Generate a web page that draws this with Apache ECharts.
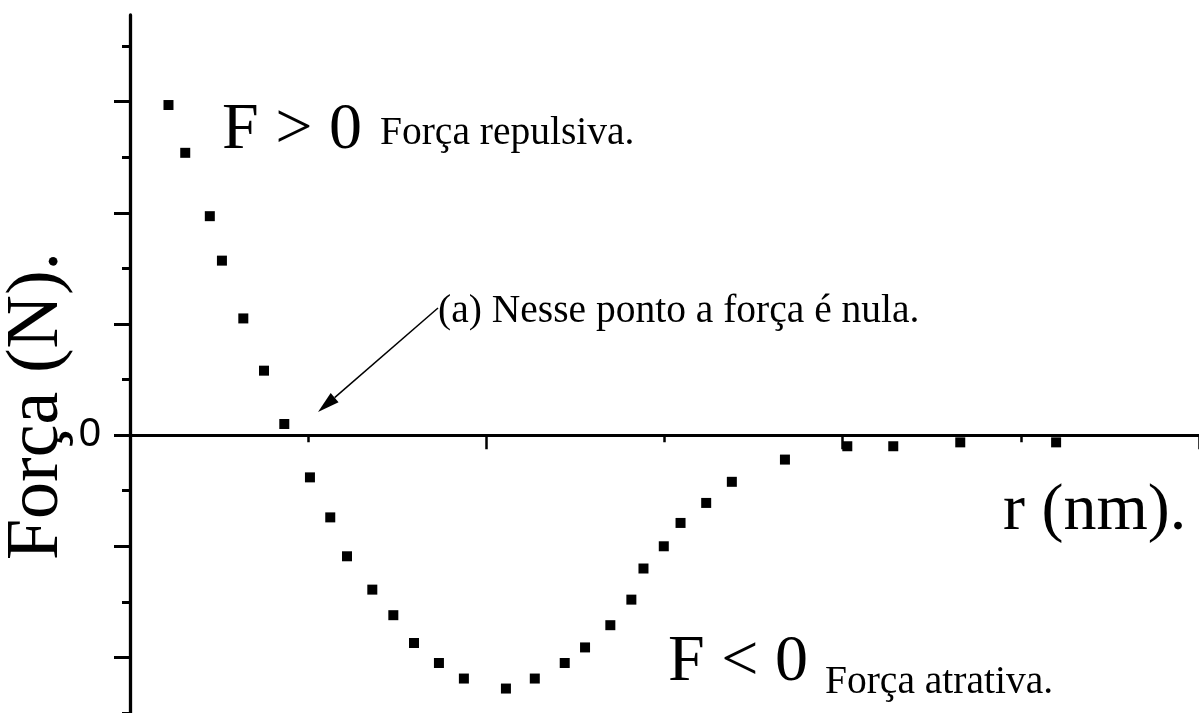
<!DOCTYPE html>
<html>
<head>
<meta charset="utf-8">
<style>
  html, body { margin: 0; padding: 0; background: #ffffff; }
  #chart { width: 1199px; height: 713px; }
</style>
<script src="https://cdn.jsdelivr.net/npm/echarts@6/dist/echarts.min.js"></script>
</head>
<body>
<div id="chart"></div>
<script>
// Distance r (nm) and force F (N) samples
const rValues = [0.108, 0.155, 0.224, 0.258, 0.318, 0.376, 0.433, 0.505, 0.562, 0.609,
                 0.680, 0.739, 0.797, 0.867, 0.937, 1.055, 1.136, 1.220, 1.277, 1.348,
                 1.407, 1.441, 1.498, 1.545, 1.617, 1.689, 1.838, 2.013, 2.142, 2.330, 2.599];
const forceValues = [2.97, 2.54, 1.97, 1.57, 1.05, 0.58, 0.10, -0.38, -0.74, -1.09,
                     -1.39, -1.62, -1.87, -2.05, -2.19, -2.28, -2.19, -2.05, -1.91, -1.71,
                     -1.48, -1.20, -1.00, -0.79, -0.61, -0.42, -0.22, -0.10, -0.10, -0.065, -0.065];
// Force axis: long ticks, short ticks and the single labelled value
const yMajorTicks = [-2, -1, 0, 1, 2, 3];
const yMinorTicks = [-2.5, -1.5, -0.5, 0.5, 1.5, 2.5, 3.5];
const yTickLabels = [0];

const points = rValues.map((r, i) => [r, forceValues[i]]);

const chart = echarts.init(document.getElementById('chart'), null, { renderer: 'canvas' });

const serif = 'Liberation Serif';
const yMin = -2.5, yMax = 3.78;

// Arrow pointing at the zero crossing
const arrowStart = [438, 308];
const arrowTip = [318, 412];
const dx = arrowTip[0] - arrowStart[0], dy = arrowTip[1] - arrowStart[1];
const len = Math.sqrt(dx * dx + dy * dy);
const ux = dx / len, uy = dy / len;
const headLen = 22, headHalf = 6;
const base = [arrowTip[0] - headLen * ux, arrowTip[1] - headLen * uy];
const nx = -uy, ny = ux;

chart.setOption({
  animation: false,
  backgroundColor: '#ffffff',
  grid: { left: 130, right: 0, top: 15, bottom: 0 },
  xAxis: {
    type: 'value',
    min: 0,
    max: 3,
    interval: 1,
    axisLine: { onZero: true, onZeroAxisIndex: 0, lineStyle: { color: '#000', width: 3 } },
    axisTick: { show: true, length: 14, lineStyle: { color: '#000', width: 2.5 } },
    minorTick: { show: true, splitNumber: 2, length: 7, lineStyle: { color: '#000', width: 2.5 } },
    axisLabel: { show: false },
    splitLine: { show: false }
  },
  yAxis: [
    {
      type: 'value',
      position: 'left',
      min: yMin,
      max: yMax,
      axisLine: { show: true, lineStyle: { color: '#000', width: 3.3 } },
      axisTick: { show: true, customValues: yMajorTicks, length: 16, lineStyle: { color: '#000', width: 3 } },
      axisLabel: {
        show: true,
        customValues: yTickLabels,
        margin: 29,
        color: '#000',
        fontFamily: 'Liberation Sans',
        fontSize: 40,
        formatter: v => String(v)
      },
      splitLine: { show: false }
    },
    {
      type: 'value',
      position: 'left',
      min: yMin,
      max: yMax,
      axisLine: { show: false },
      axisTick: { show: true, customValues: yMinorTicks, length: 8, lineStyle: { color: '#000', width: 3 } },
      axisLabel: { show: false },
      splitLine: { show: false }
    }
  ],
  series: [{
    type: 'scatter',
    data: points,
    xAxisIndex: 0,
    yAxisIndex: 0,
    symbol: 'rect',
    symbolSize: 10,
    itemStyle: { color: '#000', opacity: 1 },
    z: 5
  }],
  graphic: [
    {
      type: 'text',
      x: 38, y: 406,
      rotation: Math.PI / 2,
      style: { text: 'Força (N).', x: 0, y: 0, fill: '#000', fontFamily: serif, fontSize: 74,
               textAlign: 'center', textVerticalAlign: 'middle' }
    },
    {
      type: 'text',
      style: { text: 'r (nm).', x: 1003, y: 512, fill: '#000', fontFamily: serif, fontSize: 66,
               textAlign: 'left', textVerticalAlign: 'middle' }
    },
    {
      type: 'text',
      style: { text: 'F > 0', x: 222, y: 131, fill: '#000', fontFamily: serif, fontSize: 66,
               textAlign: 'left', textVerticalAlign: 'middle' }
    },
    {
      type: 'text',
      style: { text: 'Força repulsiva.', x: 380, y: 134, fill: '#000', fontFamily: serif, fontSize: 39.5,
               textAlign: 'left', textVerticalAlign: 'middle' }
    },
    {
      type: 'text',
      style: { text: 'F < 0', x: 668, y: 663, fill: '#000', fontFamily: serif, fontSize: 66,
               textAlign: 'left', textVerticalAlign: 'middle' }
    },
    {
      type: 'text',
      style: { text: 'Força atrativa.', x: 825, y: 683, fill: '#000', fontFamily: serif, fontSize: 39.5,
               textAlign: 'left', textVerticalAlign: 'middle' }
    },
    {
      type: 'text',
      style: { text: '(a) Nesse ponto a força é nula.', x: 438, y: 312, fill: '#000', fontFamily: serif, fontSize: 39.5,
               textAlign: 'left', textVerticalAlign: 'middle' }
    },
    {
      type: 'line',
      shape: { x1: arrowStart[0], y1: arrowStart[1], x2: base[0], y2: base[1] },
      style: { stroke: '#000', lineWidth: 1.5 }
    },
    {
      type: 'polygon',
      shape: { points: [arrowTip, [base[0] + headHalf * nx, base[1] + headHalf * ny], [base[0] - headHalf * nx, base[1] - headHalf * ny]] },
      style: { fill: '#000' }
    }
  ]
});
</script>
</body>
</html>
